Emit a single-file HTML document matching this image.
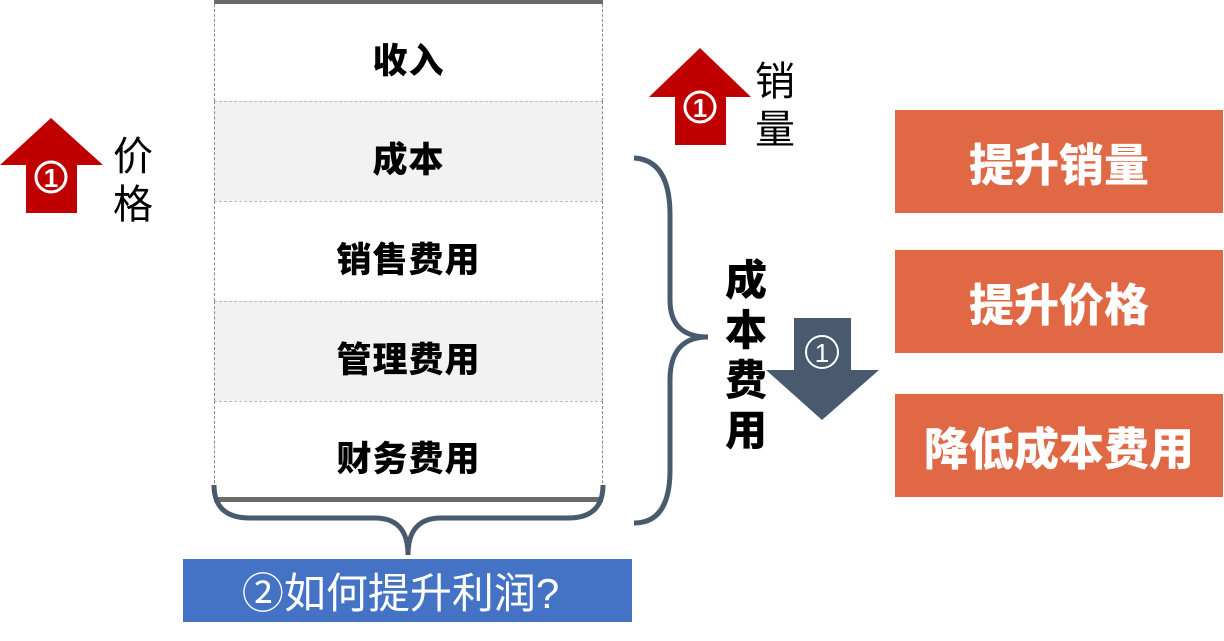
<!DOCTYPE html>
<html><head><meta charset="utf-8"><style>
body{margin:0;width:1224px;height:641px;background:#fff;position:relative;overflow:hidden;font-family:"Liberation Sans","Noto Sans CJK SC",sans-serif}
.row{position:absolute;left:214px;width:389px;height:100px;box-sizing:border-box;border-left:1px dashed #888;border-right:1px dashed #888;display:flex;align-items:center;justify-content:center;font-weight:900;font-size:35px;color:#000;padding-top:12px;letter-spacing:1px}
.row+.row{border-top:1px dashed #bbb}
.g{background:#f2f2f2}
.ob{position:absolute;left:895px;width:328px;height:103px;background:#e06844;color:#fff;font-weight:900;font-size:45px;display:flex;align-items:center;justify-content:center}
.t{position:absolute;font-size:40px;line-height:48px;color:#000}
</style></head><body>
<div style="position:absolute;left:214px;top:0;width:389px;height:4px;background:#6b6b6b"></div>
<div class="row" style="top:4px;height:97px">收入</div>
<div class="row g" style="top:101px">成本</div>
<div class="row" style="top:201px">销售费用</div>
<div class="row g" style="top:301px">管理费用</div>
<div class="row" style="top:401px;height:97px">财务费用</div>
<div style="position:absolute;left:214px;top:497px;width:389px;height:5px;background:#6b6b6b"></div>
<svg width="1224" height="641" style="position:absolute;left:0;top:0">
<path d="M214,485 Q214,518 250,518 L375,518 Q408,518 408,555 Q408,518 441,518 L568,518 Q603,518 603,485" fill="none" stroke="#4a5a6e" stroke-width="5"/>
<path d="M634,158 Q670,160 670,215 L670,300 Q670,337 708,337 Q670,337 670,380 L670,470 Q670,523 634,523" fill="none" stroke="#4a5a6e" stroke-width="5"/>
<polygon points="51,118 103,165 77,165 77,213 26,213 26,165 0,165" fill="#c00000"/>
<polygon points="700,48 751,97 726,97 726,145 675,145 675,97 649,97" fill="#c00000"/>
<polygon points="794,318 851,318 851,370 879,370 822,420 766,370 794,370" fill="#4a5a6e"/>
<circle cx="51" cy="177" r="15" fill="none" stroke="#fff" stroke-width="3"/>
<text x="51" y="187" font-size="26" font-weight="bold" fill="#fff" text-anchor="middle" font-family="Liberation Sans">1</text>
<circle cx="700" cy="107" r="15" fill="none" stroke="#fff" stroke-width="3"/>
<text x="700" y="117" font-size="26" font-weight="bold" fill="#fff" text-anchor="middle" font-family="Liberation Sans">1</text>
<circle cx="822" cy="352" r="16" fill="none" stroke="#fff" stroke-width="2"/>
<text x="822" y="362" font-size="26" fill="#fff" text-anchor="middle" font-family="Liberation Sans">1</text>
</svg>
<div class="t" style="left:113px;top:133px;width:44px">价<br>格</div>
<div class="t" style="left:755px;top:58px;width:44px">销<br>量</div>
<div class="t" style="left:725px;top:256px;width:44px;font-weight:900;font-size:42px;line-height:50px">成<br>本<br>费<br>用</div>
<div class="ob" style="top:110px">提升销量</div>
<div class="ob" style="top:250px">提升价格</div>
<div class="ob" style="top:394px">降低成本费用</div>
<div style="position:absolute;left:183px;top:559px;width:449px;height:63px;background:#4472c4;color:#fff;font-size:42px;display:flex;align-items:center;justify-content:center;padding-right:14px;box-sizing:border-box">②如何提升利润?</div>
</body></html>
